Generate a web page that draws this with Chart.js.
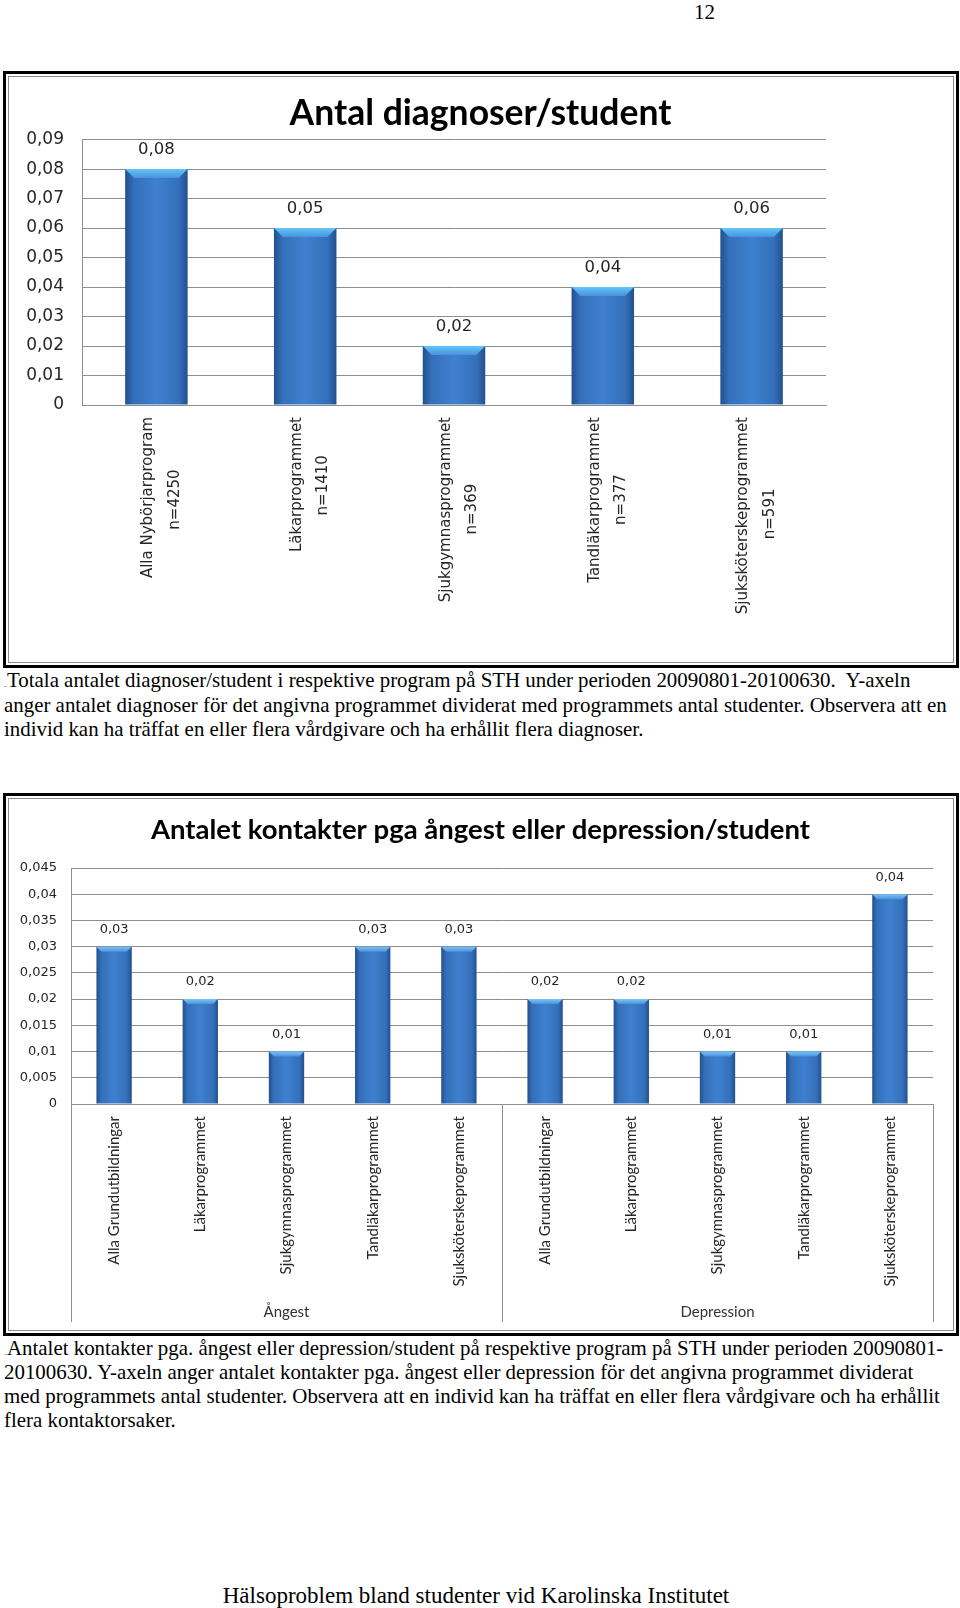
<!DOCTYPE html>
<html lang="sv">
<head>
<meta charset="utf-8">
<script src="https://cdn.jsdelivr.net/npm/chart.js@4.4.0/dist/chart.umd.min.js"></script>
<style>
body { margin:0; width:960px; height:1608px; position:relative; background:#fff; font-family:"Liberation Serif","Times New Roman",serif; color:#000; overflow:hidden; }
.nr { position:absolute; left:694px; top:0px; font-size:21px; line-height:24px; }
.ram { position:absolute; border:3px solid #000; box-sizing:border-box; }
.inre { position:absolute; left:2px; top:2px; right:2px; bottom:2px; border:1px solid #8c8c8c; }
.text { position:absolute; left:4px; font-size:20.9px; white-space:nowrap; }
.liten { font-size:6px; line-height:0; }
.fot { position:absolute; left:0; width:952px; text-align:center; top:1583px; font-size:23px; line-height:25px; }
canvas { position:absolute; }
</style>
</head>
<body>
<div class="nr">12</div>

<div class="ram" style="left:3px; top:71px; width:956px; height:597px;"><div class="inre"></div></div>
<canvas id="diagnoser" width="943" height="586" style="left:9px; top:77px;"></canvas>

<div class="text" style="top:668px; line-height:24.5px;"><span class="liten">..</span>Totala antalet diagnoser/student i respektive program på STH under perioden 20090801-20100630.&nbsp; Y-axeln<br>anger antalet diagnoser för det angivna programmet dividerat med programmets antal studenter. Observera att en<br>individ kan ha träffat en eller flera vårdgivare och ha erhållit flera diagnoser.</div>

<div class="ram" style="left:3px; top:793px; width:956px; height:543px;"><div class="inre"></div></div>
<canvas id="kontakter" width="943" height="531" style="left:9px; top:799px;"></canvas>

<div class="text" style="top:1336px; line-height:24px;"><span class="liten">..</span>Antalet kontakter pga. ångest eller depression/student på respektive program på STH under perioden 20090801-<br>20100630. Y-axeln anger antalet kontakter pga. ångest eller depression för det angivna programmet dividerat<br>med programmets antal studenter. Observera att en individ kan ha träffat en eller flera vårdgivare och ha erhållit<br>flera kontaktorsaker.</div>

<div class="fot">Hälsoproblem bland studenter vid Karolinska Institutet</div>

<script>
// Diagram 1: diagnoser per student
var program1 = ['Alla Nybörjarprogram', 'Läkarprogrammet', 'Sjukgymnasprogrammet', 'Tandläkarprogrammet', 'Sjuksköterskeprogrammet'];
var antal1 = ['n=4250', 'n=1410', 'n=369', 'n=377', 'n=591'];
var diagnoser = [0.08, 0.06, 0.02, 0.04, 0.06];
var diagnoserEtiketter = ['0,08', '0,05', '0,02', '0,04', '0,06'];

// Diagram 2: kontakter pga ångest eller depression per student
var program2 = ['Alla Grundutbildningar', 'Läkarprogrammet', 'Sjukgymnasprogrammet', 'Tandläkarprogrammet', 'Sjuksköterskeprogrammet',
  'Alla Grundutbildningar', 'Läkarprogrammet', 'Sjukgymnasprogrammet', 'Tandläkarprogrammet', 'Sjuksköterskeprogrammet'];
var grupper = ['Ångest', 'Depression'];
var kontakter = [0.03, 0.02, 0.01, 0.03, 0.03, 0.02, 0.02, 0.01, 0.01, 0.04];

var gridFarg = '#8e8e8e';
var textFarg = '#262626';

function komma(v) {
  if (v === 0) return '0';
  return String(parseFloat(v.toFixed(3))).replace('.', ',');
}

// staplarnas blå toning, räknad från skalans position för stapeln
function stapelFarg(c, andel) {
  var chart = c.chart;
  var sx = chart.scales.x;
  if (!sx || !chart.chartArea) return '#3a78c2';
  var x = sx.getPixelForValue(c.dataIndex);
  var w = sx.width / sx.getLabels().length * andel;
  var g = chart.ctx.createLinearGradient(x - w / 2, 0, x + w / 2, 0);
  g.addColorStop(0, '#22508e');
  g.addColorStop(0.14, '#3470ba');
  g.addColorStop(0.5, '#3f80cf');
  g.addColorStop(0.86, '#3470ba');
  g.addColorStop(1, '#22508e');
  return g;
}

// ljus fas överst på varje stapel + värdeetikett
var stapelPlugin = {
  id: 'staplar',
  afterDatasetsDraw: function (chart, args, opts) {
    var ctx = chart.ctx;
    chart.getDatasetMeta(0).data.forEach(function (bar, i) {
      var p = bar.getProps(['x', 'y', 'width'], true);
      var l = p.x - p.width / 2, r = p.x + p.width / 2, b = opts.fas;
      ctx.save();
      var g = ctx.createLinearGradient(0, p.y, 0, p.y + b);
      g.addColorStop(0, opts.ljus);
      g.addColorStop(1, '#4a92dc');
      ctx.fillStyle = g;
      ctx.beginPath();
      ctx.moveTo(l, p.y);
      ctx.lineTo(r, p.y);
      ctx.lineTo(r - b, p.y + b);
      ctx.lineTo(l + b, p.y + b);
      ctx.closePath();
      ctx.fill();
      ctx.font = opts.font;
      ctx.fillStyle = textFarg;
      ctx.textAlign = 'center';
      ctx.textBaseline = 'middle';
      ctx.fillText(opts.etiketter[i], p.x, p.y - opts.avstand);
      ctx.restore();
    });
  }
};

// linjer som avgränsar grupperna under kategoriaxeln
var gruppLinjer = {
  id: 'grupplinjer',
  afterDraw: function (chart) {
    var g = chart.scales.grupp;
    if (!g) return;
    var a = chart.chartArea, ctx = chart.ctx;
    var mitt = (g.getPixelForValue(0) + g.getPixelForValue(1)) / 2;
    ctx.save();
    ctx.strokeStyle = gridFarg;
    ctx.lineWidth = 1;
    [a.left, mitt, a.right].forEach(function (x) {
      var xx = Math.round(x) + 0.5;
      ctx.beginPath();
      ctx.moveTo(xx, a.bottom);
      ctx.lineTo(xx, g.bottom);
      ctx.stroke();
    });
    ctx.restore();
  }
};

// centrera andra raden (n=...) under första raden med mellanslag
var matt = document.createElement('canvas').getContext('2d');
function centrerad(rad1, rad2, font) {
  matt.font = font;
  var w1 = matt.measureText(rad1).width;
  var w2 = matt.measureText(rad2).width;
  var sp = matt.measureText(' ').width;
  var n = Math.max(0, Math.round((w1 - w2) / 2 / sp));
  return rad2 + ' '.repeat(n);
}

// tom axel till höger, så att titeln centreras över hela ramen
function tomAxel(bredd) {
  return {
    type: 'linear',
    position: 'right',
    grid: { display: false },
    border: { display: false },
    ticks: { display: false },
    afterFit: function (s) { s.width = bredd; }
  };
}

var etikettFont1 = { family: 'DejaVu Sans', size: 15, lineHeight: 1.75 };
var etikettFontStr1 = '15px "DejaVu Sans"';

new Chart(document.getElementById('diagnoser'), {
  type: 'bar',
  data: {
    labels: program1,
    datasets: [{
      data: diagnoser,
      backgroundColor: function (c) { return stapelFarg(c, 0.42); },
      borderWidth: 0,
      categoryPercentage: 1,
      barPercentage: 0.42
    }]
  },
  options: {
    responsive: false,
    animation: false,
    events: [],
    layout: { padding: 0 },
    plugins: {
      legend: { display: false },
      tooltip: { enabled: false },
      title: {
        display: true,
        text: 'Antal diagnoser/student',
        color: '#000',
        font: { family: 'Lato', weight: 'bold', size: 35.5 },
        padding: { top: 15, bottom: 5 }
      },
      staplar: { etiketter: diagnoserEtiketter, font: '16.5px "DejaVu Sans"', avstand: 19, fas: 9, ljus: '#62c6f7' }
    },
    scales: {
      x: {
        grid: { display: true, drawOnChartArea: false, drawTicks: false },
        border: { color: gridFarg },
        ticks: {
          autoSkip: false, maxRotation: 90, minRotation: 90, padding: 12, labelOffset: -8,
          color: textFarg, font: etikettFont1,
          callback: function (v, i) { return [program1[i], centrerad(program1[i], antal1[i], etikettFontStr1)]; }
        },
        afterFit: function (s) { s.height = 258; }
      },
      y: {
        min: 0, max: 0.09,
        grid: { color: gridFarg, drawTicks: false },
        border: { color: gridFarg },
        ticks: { stepSize: 0.01, padding: 18, color: textFarg, font: { family: 'DejaVu Sans', size: 17 }, callback: komma },
        afterFit: function (s) { s.width = 73; }
      },
      hoger: tomAxel(126)
    }
  },
  plugins: [stapelPlugin]
});

new Chart(document.getElementById('kontakter'), {
  type: 'bar',
  data: {
    labels: program2,
    datasets: [{
      data: kontakter,
      xAxisID: 'x',
      backgroundColor: function (c) { return stapelFarg(c, 0.41); },
      borderWidth: 0,
      categoryPercentage: 1,
      barPercentage: 0.41
    }]
  },
  options: {
    responsive: false,
    animation: false,
    events: [],
    layout: { padding: { left: 0, right: 0, top: 0, bottom: 8 } },
    plugins: {
      legend: { display: false },
      tooltip: { enabled: false },
      title: {
        display: true,
        text: 'Antalet kontakter pga ångest eller depression/student',
        color: '#000',
        font: { family: 'Lato', weight: 'bold', size: 27.5 },
        padding: { top: 15, bottom: 21 }
      },
      staplar: { etiketter: kontakter.map(komma), font: '13px "DejaVu Sans"', avstand: 17, fas: 5, ljus: '#7cc4f4' }
    },
    scales: {
      x: {
        weight: 0,
        grid: { display: true, drawOnChartArea: false, drawTicks: false },
        border: { color: gridFarg },
        ticks: { autoSkip: false, maxRotation: 90, minRotation: 90, padding: 12, color: textFarg, font: { family: 'Lato', size: 15 } },
        afterFit: function (s) { s.height = 195; }
      },
      grupp: {
        type: 'category',
        position: 'bottom',
        weight: 1,
        labels: grupper,
        offset: true,
        grid: { display: false, drawTicks: false },
        border: { display: false },
        ticks: { padding: 4, color: '#333', font: { family: 'Lato', size: 15 } },
        afterFit: function (s) { s.height = 23; }
      },
      y: {
        min: 0, max: 0.045,
        grid: { color: gridFarg, drawTicks: false },
        border: { color: gridFarg },
        ticks: { stepSize: 0.005, padding: 14, color: textFarg, font: { family: 'DejaVu Sans', size: 13 }, callback: komma },
        afterFit: function (s) { s.width = 62; }
      },
      hoger: tomAxel(19)
    }
  },
  plugins: [stapelPlugin, gruppLinjer]
});
</script>
</body>
</html>
